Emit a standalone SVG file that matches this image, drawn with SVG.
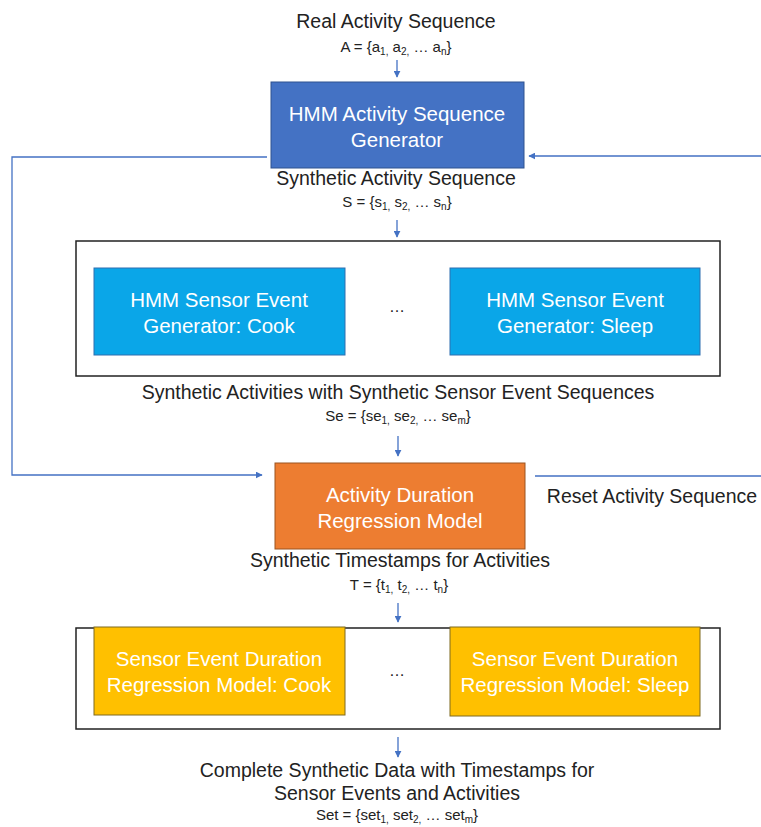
<svg xmlns="http://www.w3.org/2000/svg" width="761" height="827" viewBox="0 0 761 827">
<style>
text{font-family:"Liberation Sans","Noto Sans",sans-serif;fill:#222;text-anchor:middle}
.lbl{font-size:19.5px}
.eq{font-size:15px}
.sub{font-size:10px}
.bx{font-size:20.5px;fill:#fff}
.ln{fill:none;stroke:#4472C4;stroke-width:1.3}
.frame{fill:none;stroke:#222;stroke-width:1.5}
</style>
<defs>
<marker id="ah" viewBox="0 0 10 10" refX="9" refY="5" markerWidth="7" markerHeight="7" orient="auto" markerUnits="userSpaceOnUse">
<path d="M0,0 L10,5 L0,10 z" fill="#4472C4"/>
</marker>
</defs>
<rect width="761" height="827" fill="#fff"/>

<g id="labels">
<text class="lbl" x="396" y="28">Real Activity Sequence</text>
<text class="eq" x="396" y="52">A = {a<tspan class="sub" dy="3">1,</tspan><tspan dy="-3"> a</tspan><tspan class="sub" dy="3">2,</tspan><tspan dy="-3"> … a</tspan><tspan class="sub" dy="3">n</tspan><tspan dy="-3">}</tspan></text>
<text class="lbl" x="396" y="185">Synthetic Activity Sequence</text>
<text class="eq" x="397" y="207">S = {s<tspan class="sub" dy="3">1,</tspan><tspan dy="-3"> s</tspan><tspan class="sub" dy="3">2,</tspan><tspan dy="-3"> … s</tspan><tspan class="sub" dy="3">n</tspan><tspan dy="-3">}</tspan></text>
<text class="lbl" x="398" y="399">Synthetic Activities with Synthetic Sensor Event Sequences</text>
<text class="eq" x="398" y="421">Se = {se<tspan class="sub" dy="3">1,</tspan><tspan dy="-3"> se</tspan><tspan class="sub" dy="3">2,</tspan><tspan dy="-3"> … se</tspan><tspan class="sub" dy="3">m</tspan><tspan dy="-3">}</tspan></text>
<text class="lbl" x="652" y="503">Reset Activity Sequence</text>
<text class="lbl" x="400" y="567">Synthetic Timestamps for Activities</text>
<text class="eq" x="399" y="590">T = {t<tspan class="sub" dy="3">1,</tspan><tspan dy="-3"> t</tspan><tspan class="sub" dy="3">2,</tspan><tspan dy="-3"> … t</tspan><tspan class="sub" dy="3">n</tspan><tspan dy="-3">}</tspan></text>
<text class="lbl" x="397" y="777">Complete Synthetic Data with Timestamps for</text>
<text class="lbl" x="397" y="800">Sensor Events and Activities</text>
<text class="eq" x="397" y="820">Set = {set<tspan class="sub" dy="3">1,</tspan><tspan dy="-3"> set</tspan><tspan class="sub" dy="3">2,</tspan><tspan dy="-3"> … set</tspan><tspan class="sub" dy="3">m</tspan><tspan dy="-3">}</tspan></text>
</g>

<g id="frame-hmm-sensor">
<rect class="frame" x="76" y="241" width="644" height="135"/>
<text x="397" y="312" style="font-size:16px">…</text>
</g>
<g id="frame-regression">
<rect class="frame" x="76" y="628" width="644" height="101"/>
<text x="397" y="676" style="font-size:16px">…</text>
</g>

<g id="hmm-activity">
<rect x="271" y="82" width="253" height="86" fill="#4472C4" stroke="#2F528F" stroke-width="1"/>
<text class="bx" x="397" y="121">HMM Activity Sequence</text>
<text class="bx" x="397" y="147">Generator</text>
</g>

<g id="hmm-cook">
<rect x="94" y="268" width="251" height="87" fill="#0AA6E8" stroke="#2F6FAF" stroke-width="1"/>
<text class="bx" x="219" y="307">HMM Sensor Event</text>
<text class="bx" x="219" y="333">Generator: Cook</text>
</g>
<g id="hmm-sleep">
<rect x="450" y="268" width="250" height="87" fill="#0AA6E8" stroke="#2F6FAF" stroke-width="1"/>
<text class="bx" x="575" y="307">HMM Sensor Event</text>
<text class="bx" x="575" y="333">Generator: Sleep</text>
</g>

<g id="activity-duration">
<rect x="275" y="463" width="250" height="86" fill="#ED7D31" stroke="#9B5420" stroke-width="1"/>
<text class="bx" x="400" y="502">Activity Duration</text>
<text class="bx" x="400" y="528">Regression Model</text>
</g>

<g id="sensor-cook">
<rect x="94" y="627" width="251" height="88" fill="#FFC000" stroke="#7F6A20" stroke-width="1"/>
<text class="bx" x="219" y="666">Sensor Event Duration</text>
<text class="bx" x="219" y="692">Regression Model: Cook</text>
</g>
<g id="sensor-sleep">
<rect x="450" y="627" width="250" height="89" fill="#FFC000" stroke="#7F6A20" stroke-width="1"/>
<text class="bx" x="575" y="666">Sensor Event Duration</text>
<text class="bx" x="575" y="692">Regression Model: Sleep</text>
</g>

<g id="connectors">
<line class="ln" x1="397" y1="60" x2="397" y2="77" marker-end="url(#ah)"/>
<line class="ln" x1="397" y1="220" x2="397" y2="237" marker-end="url(#ah)"/>
<line class="ln" x1="398" y1="436" x2="398" y2="456" marker-end="url(#ah)"/>
<line class="ln" x1="398" y1="603" x2="398" y2="622" marker-end="url(#ah)"/>
<line class="ln" x1="398" y1="737" x2="398" y2="757" marker-end="url(#ah)"/>
<path class="ln" d="M267,157 H12 V475 H262" marker-end="url(#ah)"/>
<path class="ln" d="M535,476 H766 V156 H529" marker-end="url(#ah)"/>
</g>
</svg>
